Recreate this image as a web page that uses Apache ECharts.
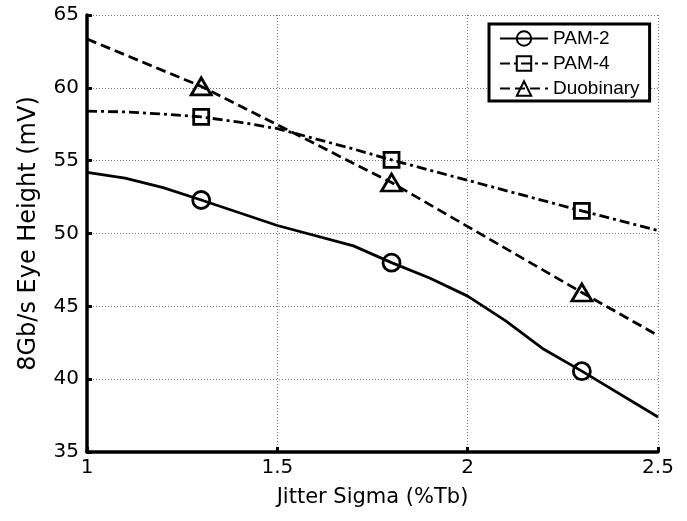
<!DOCTYPE html>
<html>
<head>
<meta charset="utf-8">
<script src="https://cdn.jsdelivr.net/npm/echarts@6/dist/echarts.min.js"></script>
<style>
  html, body { margin: 0; padding: 0; background: #fff; }
  #chart { width: 687px; height: 521px; }
</style>
</head>
<body>
<div id="chart"></div>
<script>
// Jitter sigma (%Tb) sample positions and eye heights (mV) per signalling scheme
const pam2X = [1.0, 1.1, 1.2, 1.3, 1.5, 1.7, 1.8, 1.9, 2.0, 2.1, 2.2, 2.3, 2.5];
const pam2Y = [54.2, 53.8, 53.15, 52.3, 50.55, 49.15, 48.0, 46.95, 45.7, 44.0, 42.05, 40.55, 37.4];

const pam4X = [1.0, 1.1, 1.2, 1.3, 1.4, 1.5, 1.6, 1.7, 1.8, 2.3, 2.5];
const pam4Y = [58.4, 58.35, 58.2, 58.0, 57.65, 57.2, 56.5, 55.8, 55.05, 51.55, 50.2];

const duoX = [1.0, 1.3, 1.8, 2.3, 2.5];
const duoY = [63.35, 60.1, 53.5, 45.95, 43.0];

// x positions that carry a marker
const markerX = [1.3, 1.8, 2.3];

const seriesNames = ['PAM-2', 'PAM-4', 'Duobinary'];
const xTicks = [1, 1.5, 2, 2.5];
const yTicks = [35, 40, 45, 50, 55, 60, 65];

function toData(xs, ys) {
  return xs.map((x, i) => {
    const item = { value: [x, ys[i]] };
    if (!markerX.some(m => Math.abs(m - x) < 1e-9)) item.symbol = 'none';
    return item;
  });
}

const FONT = 'DejaVu Sans';
const chart = echarts.init(document.getElementById('chart'), null, { renderer: 'canvas' });

function lineSeries(name, xs, ys, symbol, size, dash) {
  return {
    name: name,
    type: 'line',
    data: toData(xs, ys),
    symbol: symbol,
    symbolSize: size,
    showAllSymbol: true,
    smooth: false,
    lineStyle: { color: '#000', width: 2.8, type: dash },
    itemStyle: { color: 'rgba(255,255,255,0)', borderColor: '#000', borderWidth: 2.8 },
    emphasis: { disabled: true },
    z: 3
  };
}

chart.setOption({
  animation: false,
  backgroundColor: '#fff',
  grid: { left: 87, right: 29, top: 15, bottom: 69 },
  legend: {
    data: seriesNames,
    orient: 'vertical',
    left: 489,
    top: 24,
    padding: [5, 10, 3, 10],
    itemWidth: 48,
    itemHeight: 18,
    itemGap: 6,
    backgroundColor: '#fff',
    borderColor: '#000',
    borderWidth: 3,
    textStyle: { fontFamily: 'Liberation Sans', fontSize: 19, color: '#000' }
  },
  xAxis: {
    type: 'value',
    min: 1,
    max: 2.5,
    interval: 0.5,
    name: 'Jitter Sigma (%Tb)',
    nameLocation: 'middle',
    nameGap: 35,
    nameTextStyle: { fontFamily: FONT, fontSize: 21, color: '#000' },
    axisLine: { show: true, onZero: false, lineStyle: { color: '#000', width: 3.5 } },
    axisTick: { show: true, inside: true, length: 5, lineStyle: { color: '#000', width: 3 } },
    axisLabel: {
      margin: 6, fontFamily: FONT, fontSize: 20, color: '#000',
      formatter: v => String(xTicks.find(t => Math.abs(t - v) < 1e-9) ?? v)
    },
    splitLine: { show: true, lineStyle: { color: '#777', width: 1, type: [1, 2] } }
  },
  yAxis: {
    type: 'value',
    min: 35,
    max: 65,
    interval: 5,
    name: '8Gb/s Eye Height (mV)',
    nameLocation: 'middle',
    nameGap: 46,
    nameTextStyle: { fontFamily: FONT, fontSize: 24, color: '#000' },
    axisLine: { show: true, onZero: false, lineStyle: { color: '#000', width: 3.5 } },
    axisTick: { show: true, inside: true, length: 5, lineStyle: { color: '#000', width: 3 } },
    axisLabel: {
      margin: 8, fontFamily: FONT, fontSize: 20, color: '#000',
      formatter: v => String(yTicks.find(t => t === v) ?? v)
    },
    splitLine: { show: true, lineStyle: { color: '#777', width: 1, type: [1, 2] } }
  },
  series: [
    lineSeries(seriesNames[0], pam2X, pam2Y, 'circle', 17, 'solid'),
    lineSeries(seriesNames[1], pam4X, pam4Y, 'rect', 15, [10, 4, 3, 4]),
    lineSeries(seriesNames[2], duoX, duoY, 'triangle', [20, 17], [10, 5])
  ]
});
</script>
</body>
</html>
